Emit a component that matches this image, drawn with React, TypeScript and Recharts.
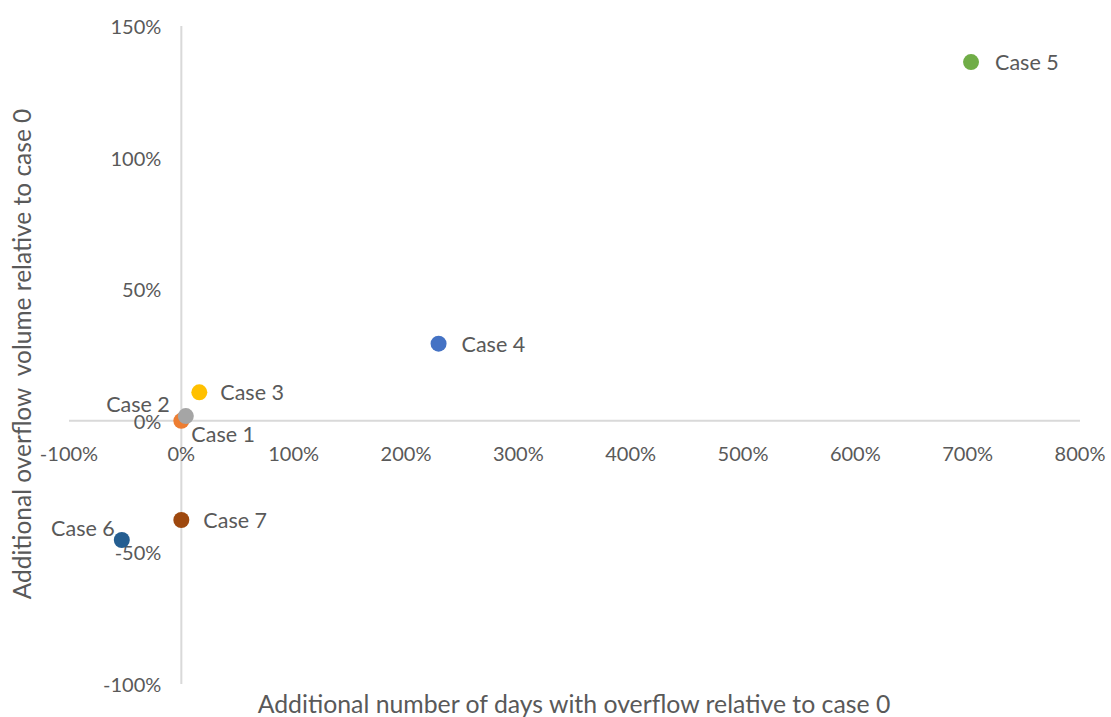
import React from 'react'
import { ScatterChart, Scatter, XAxis, YAxis, ReferenceLine, ReferenceDot, LabelList } from 'recharts'

const cases = ['Case 1', 'Case 2', 'Case 3', 'Case 4', 'Case 5', 'Case 6', 'Case 7']
const extraDays = [0, 4, 16, 229, 703, -53, 0]
const extraVolume = [0, 1.8, 10.8, 29.3, 136.3, -45.3, -37.7]
const xTicks = [-100, 0, 100, 200, 300, 400, 500, 600, 700, 800]
const yTicks = [-100, -50, 0, 50, 100, 150]

const colors = ['#ED7D31', '#A5A5A5', '#FFC000', '#4472C4', '#70AD47', '#255E91', '#9E480E']
// label offsets from the dot, [dx, dy, anchor]
const labelOffsets: [number, number, string][] = [
  [10, 13, 'start'],
  [-16, -12, 'end'],
  [21, 0, 'start'],
  [23, 0, 'start'],
  [24, 0, 'start'],
  [-7, -12, 'end'],
  [22, 0, 'start'],
]

const font = 'Lato, "Open Sans", sans-serif'
const textColor = '#595959'

const rows = cases.map((name, i) => ({ name, x: extraDays[i], y: extraVolume[i] }))

const App: React.FC = () => {
  return (
    <div style={{ position: 'absolute', left: 0, top: 0, width: 1111, height: 717, background: '#fff', fontFamily: font }}>
      <ScatterChart width={1111} height={717} margin={{ top: 26, right: 31, bottom: 33, left: 69 }}>
        <XAxis type='number' dataKey='x' domain={[-100, 800]} hide />
        <YAxis type='number' dataKey='y' domain={[-100, 150]} hide />
        <ReferenceLine x={0} stroke='#D9D9D9' strokeWidth={2} />
        <ReferenceLine y={0} stroke='#D9D9D9' strokeWidth={2} />
        {xTicks.map(t => (
          <ReferenceDot
            key={'x' + t}
            x={t}
            y={0}
            r={0}
            shape={(p: any) => (
              <text x={p.cx} y={p.cy + 32} textAnchor='middle' dominantBaseline='central' fill={textColor} fontSize={20} fontFamily={font}>
                {t + '%'}
              </text>
            )}
          />
        ))}
        {yTicks.map(t => (
          <ReferenceDot
            key={'y' + t}
            x={0}
            y={t}
            r={0}
            shape={(p: any) => (
              <text x={p.cx - 20} y={p.cy} textAnchor='end' dominantBaseline='central' fill={textColor} fontSize={20} fontFamily={font}>
                {t + '%'}
              </text>
            )}
          />
        ))}
        {rows.map((row, i) => (
          <Scatter key={row.name} data={[row]} fill={colors[i]} isAnimationActive={false}
            shape={(p: any) => <circle cx={p.cx} cy={p.cy} r={8} fill={colors[i]} />}>
            <LabelList
              dataKey='name'
              content={(p: any) => {
                const [dx, dy, anchor] = labelOffsets[i]
                const cx = p.x + p.width / 2
                const cy = p.y + p.height / 2
                return (
                  <text x={cx + dx} y={cy + dy} textAnchor={anchor as any} dominantBaseline='central' fill={textColor} fontSize={21.5} fontFamily={font}>
                    {p.value}
                  </text>
                )
              }}
            />
          </Scatter>
        ))}
      </ScatterChart>
      <div style={{ position: 'absolute', left: 574, top: 704, transform: 'translate(-50%, -50%)', whiteSpace: 'nowrap', color: textColor, fontSize: 24.8, lineHeight: '30px' }}>
        Additional number of days with overflow relative to case 0
      </div>
      <div style={{ position: 'absolute', left: 22, top: 354, transform: 'translate(-50%, -50%) rotate(-90deg)', whiteSpace: 'pre', color: textColor, fontSize: 24.5, lineHeight: '30px' }}>
        {'Additional overflow  volume relative to case 0'}
      </div>
    </div>
  )
}

export default App
